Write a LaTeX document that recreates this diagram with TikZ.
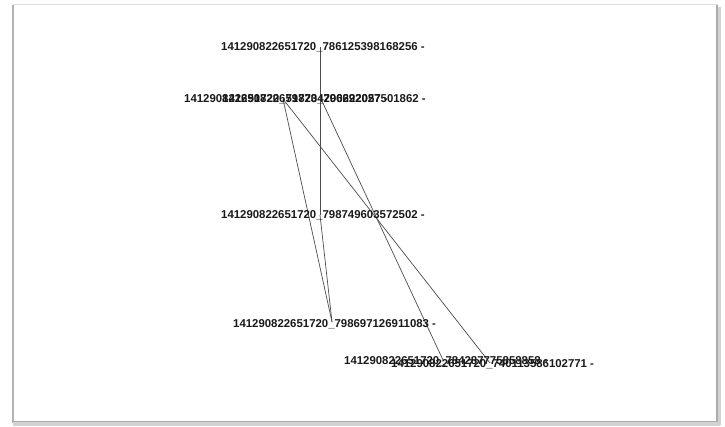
\documentclass[tikz,border=0pt]{standalone}
\usepackage{fontspec}
\setmainfont{Liberation Sans}
\usetikzlibrary{calc}
\begin{document}
\begin{tikzpicture}[x=1pt,y=-1pt,
  lbl/.style={font=\bfseries\fontsize{11.4}{12}\selectfont, inner sep=0pt, anchor=west, text=black!90},
  edge/.style={draw=black!70, line width=0.7pt}]
\useasboundingbox (0,0) rectangle (725,427);
% frame
\fill[white] (13,5) rectangle (718,423);
\draw[gray!25, line width=1pt] (13,5) -- (718,5);
\draw[gray!60, line width=1.6pt] (13,5) -- (13,423);
\draw[gray!35, line width=4pt] (719,7) -- (719,425);
\draw[gray!65, line width=1.4pt] (717,5) -- (717,422);
\draw[gray!35, line width=4pt] (13,424) -- (720,424);
\draw[gray!65, line width=1.4pt] (13,421.5) -- (718,421.5);
% vertices
\coordinate (A) at (320,47);
\coordinate (B) at (283,99);
\coordinate (C) at (321,99);
\coordinate (D) at (320,215);
\coordinate (E) at (332,322);
\coordinate (F) at (443,360);
\coordinate (G) at (490,363);
% edges
\draw[edge] (A) -- (D);
\draw[edge] (B) -- (E);
\draw[edge] (D) -- (E);
\draw[edge] (C) -- (F);
\draw[edge] (B) -- (G);
% labels
\node[lbl] (Alab) at ($(A)+(-99,0)$) {141290822651720\_786125398168256 -};
\node[lbl] (Blab) at ($(B)+(-99,0)$) {141290822651720\_798734200622057 -};
\node[lbl] (Clab) at ($(C)+(-99,0)$) {141290822651720\_796292027501862 -};
\node[lbl] (Dlab) at ($(D)+(-99,0)$) {141290822651720\_798749603572502 -};
\node[lbl] (Elab) at ($(E)+(-99,2)$) {141290822651720\_798697126911083 -};
\node[lbl] (Flab) at ($(F)+(-99,1)$) {141290822651720\_784287775858858 -};
\node[lbl] (Glab) at ($(G)+(-99,1)$) {141290822651720\_740113586102771 -};
\end{tikzpicture}
\end{document}
